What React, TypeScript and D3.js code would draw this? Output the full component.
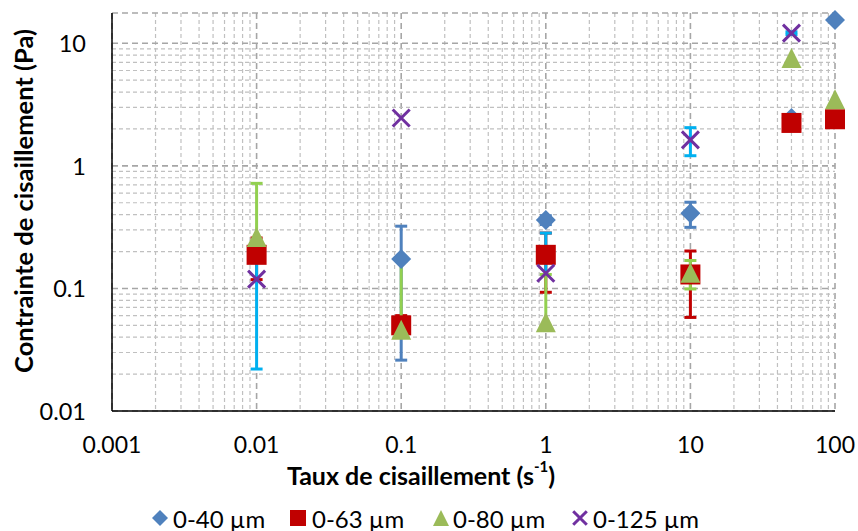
import React from 'react'
import * as d3 from 'd3'

// shear rates (s-1) and shear stress values (Pa)
const shearRates = [0.01, 0.1, 1, 10, 50, 100]
const stress40 = [null, 0.174, 0.362, 0.41, 2.46, 15.5]
const err40 = [0, 0.148, 0.03, 0.095, 0, 0]
const stress63 = [0.188, 0.05, 0.188, 0.13, 2.24, 2.4]
const err63 = [0.07, 0.01, 0.095, 0.072, 0, 0]
const stress80 = [0.263, 0.046, 0.053, 0.134, 7.6, 3.5]
const err80 = [0.457, 0.12, 0.077, 0.035, 0, 0]
const stress125 = [0.119, 2.46, 0.133, 1.63, 12.1, null]
const err125 = [0.097, 0, 0.15, 0.42, 0.3, 0]

const seriesNames = ['0-40 µm', '0-63 µm', '0-80 µm', '0-125 µm']
const xTickLabels = ['0.001', '0.01', '0.1', '1', '10', '100']
const yTickLabels = ['0.01', '0.1', '1', '10']

const W = 858
const H = 531
const plot = { left: 112, right: 835, top: 13, bottom: 411 }
const FONT = 'Lato, "Open Sans", sans-serif'

type Marker = 'diamond' | 'square' | 'triangle' | 'cross'

const series = [
  { name: seriesNames[0], values: stress40, errors: err40, color: '#4F81BD', errColor: '#4F81BD', marker: 'diamond' as Marker },
  { name: seriesNames[1], values: stress63, errors: err63, color: '#C00000', errColor: '#C00000', marker: 'square' as Marker },
  { name: seriesNames[2], values: stress80, errors: err80, color: '#9BBB59', errColor: '#92D050', marker: 'triangle' as Marker },
  { name: seriesNames[3], values: stress125, errors: err125, color: '#7030A0', errColor: '#00B0F0', marker: 'cross' as Marker },
]

function MarkerShape({ type, x, y, r, color }: { type: Marker; x: number; y: number; r: number; color: string }) {
  if (type === 'diamond')
    return <path d={`M${x},${y - r}L${x + r},${y}L${x},${y + r}L${x - r},${y}Z`} fill={color} />
  if (type === 'square')
    return <rect x={x - r} y={y - r} width={2 * r} height={2 * r} fill={color} />
  if (type === 'triangle')
    return <path d={`M${x},${y - r}L${x + r},${y + r}L${x - r},${y + r}Z`} fill={color} />
  const k = r * 0.85
  return (
    <path
      d={`M${x - k},${y - k}L${x + k},${y + k}M${x - k},${y + k}L${x + k},${y - k}`}
      stroke={color}
      strokeWidth={3}
      fill="none"
    />
  )
}

export default function App() {
  const x = d3.scaleLog().domain([0.001, 100]).range([plot.left, plot.right])
  // plot top sits a little above the 10 Pa line
  const yTop = 10 * Math.pow(10, (43.3 - plot.top) / 122.6)
  const y = d3.scaleLog().domain([0.01, yTop]).range([plot.bottom, plot.top])

  const xGrid: number[] = []
  for (let e = -3; e < 2; e++) for (let m = 1; m <= 9; m++) xGrid.push(m * Math.pow(10, e))
  xGrid.push(100)
  const yGrid: number[] = []
  for (let e = -2; e <= 1; e++) for (let m = 1; m <= 9; m++) {
    const v = m * Math.pow(10, e)
    if (v <= yTop) yGrid.push(v)
  }
  const isMajor = (v: number) => Math.abs(Math.log10(v) - Math.round(Math.log10(v))) < 1e-9

  const legendItems = [
    { mx: 160, tx: 173 },
    { mx: 298, tx: 312 },
    { mx: 441, tx: 453 },
    { mx: 580, tx: 593 },
  ]

  return (
    <div style={{ position: 'absolute', left: 0, top: 0 }}>
      <svg width={W} height={H} style={{ display: 'block', background: '#fff' }}>
        {/* grid */}
        <g>
          {xGrid.map((v, i) => (
            <line
              key={'xg' + i}
              x1={x(v)}
              x2={x(v)}
              y1={plot.top}
              y2={plot.bottom}
              stroke={isMajor(v) ? '#a6a6a6' : '#c0c0c0'}
              strokeWidth={isMajor(v) ? 1.6 : 1.2}
              strokeDasharray={isMajor(v) ? '6,4' : '4,3'}
            />
          ))}
          {yGrid.map((v, i) => (
            <line
              key={'yg' + i}
              x1={plot.left}
              x2={plot.right}
              y1={y(v)}
              y2={y(v)}
              stroke={isMajor(v) ? '#a6a6a6' : '#c0c0c0'}
              strokeWidth={isMajor(v) ? 1.6 : 1.2}
              strokeDasharray={isMajor(v) ? '6,4' : '4,3'}
            />
          ))}
          <line x1={plot.left} x2={plot.right} y1={plot.top} y2={plot.top} stroke="#a6a6a6" strokeWidth={1.4} strokeDasharray="6,4" />
        </g>

        {/* axes */}
        <line x1={plot.left} x2={plot.left} y1={plot.top} y2={plot.bottom} stroke="#000" strokeWidth={1.5} />
        <line x1={plot.left} x2={plot.right} y1={plot.bottom} y2={plot.bottom} stroke="#000" strokeWidth={1.5} />

        {xTickLabels.map((t) => (
          <text key={'xt' + t} x={x(+t)} y={444} textAnchor="middle" dominantBaseline="central" fontFamily={FONT} fontSize={23} fill="#000">
            {t}
          </text>
        ))}
        {yTickLabels.map((t) => (
          <text key={'yt' + t} x={86} y={y(+t)} textAnchor="end" dominantBaseline="central" fontFamily={FONT} fontSize={23.5} fill="#000">
            {t}
          </text>
        ))}

        {/* axis titles */}
        <text x={421} y={475} textAnchor="middle" dominantBaseline="central" fontFamily={FONT} fontSize={25} fontWeight="bold" fill="#000">
          Taux de cisaillement (s
          <tspan fontSize={15} dy={-9}>-1</tspan>
          <tspan dy={9}>)</tspan>
        </text>
        <text
          transform={`translate(23,201) rotate(-90)`}
          textAnchor="middle"
          dominantBaseline="central"
          fontFamily={FONT}
          fontSize={25.5}
          fontWeight="bold"
          fill="#000"
        >
          Contrainte de cisaillement (Pa)
        </text>

        {/* error bars of all series sit beneath the markers */}
        {series.map((s) => (
          <g key={'err' + s.name} stroke={s.errColor} strokeWidth={3}>
            {shearRates.map((r, i) => {
              const v = s.values[i]
              const e = s.errors[i]
              if (v == null || !e) return null
              const cx = x(r)
              const yHi = y(v + e)
              const hasLow = v - e > 0
              const yLo = hasLow ? y(v - e) : y(v)
              return (
                <g key={'e' + i}>
                  <line x1={cx} x2={cx} y1={yHi} y2={yLo} />
                  <line x1={cx - 6} x2={cx + 6} y1={yHi} y2={yHi} />
                  {hasLow && <line x1={cx - 6} x2={cx + 6} y1={yLo} y2={yLo} />}
                </g>
              )
            })}
          </g>
        ))}
        {series.map((s) => (
          <g key={'mk' + s.name}>
            {shearRates.map((r, i) => {
              const v = s.values[i]
              if (v == null) return null
              return <MarkerShape key={'m' + i} type={s.marker} x={x(r)} y={y(v)} r={10} color={s.color} />
            })}
          </g>
        ))}

        {/* legend */}
        {series.map((s, i) => (
          <g key={'lg' + i}>
            <MarkerShape type={s.marker} x={legendItems[i].mx} y={518} r={8} color={s.color} />
            <text x={legendItems[i].tx} y={518} dominantBaseline="central" fontFamily={FONT} fontSize={24} fill="#000">
              {s.name}
            </text>
          </g>
        ))}
      </svg>
    </div>
  )
}
